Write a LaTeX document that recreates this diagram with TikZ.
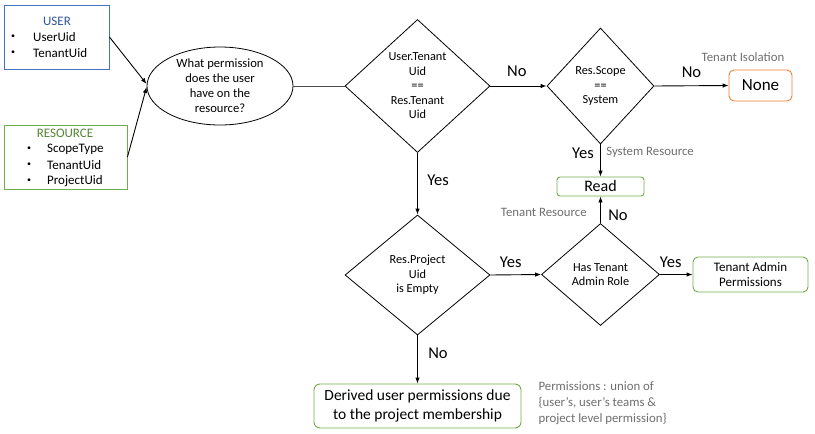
\documentclass[tikz,border=0pt]{standalone}
\usepackage{fontspec}
\setmainfont{Carlito}
\usetikzlibrary{shapes.geometric,arrows.meta,positioning}
\definecolor{userblue}{HTML}{4472C4}
\definecolor{usertext}{HTML}{2F5597}
\definecolor{resgreen}{HTML}{70AD47}
\definecolor{restext}{HTML}{548235}
\definecolor{noneorange}{HTML}{ED7D31}
\definecolor{notegray}{HTML}{6E6E6E}
\begin{document}
\begin{tikzpicture}[x=1pt,y=-1pt,
    every node/.style={font=\fontsize{13}{15}\selectfont},
    decision/.style={diamond,draw,line width=0.8pt,inner sep=0pt,align=center,font=\fontsize{12.3}{14.5}\selectfont},
    outbox/.style={draw=#1,rounded corners=5pt,line width=0.9pt,align=center},
    inbox/.style={draw=#1,line width=0.9pt},
    item/.style={anchor=west,inner sep=0pt},
    dot/.style={font=\fontsize{8}{10}\selectfont},
    flow/.style={line width=0.9pt,-{Latex[length=6pt,width=4.5pt]}},
    lbl/.style={font=\fontsize{16.5}{18}\selectfont},
    note/.style={text=notegray,align=left,font=\fontsize{12.8}{16}\selectfont}]
    \useasboundingbox (0,0) rectangle (815,434);
    \node[inbox=userblue,minimum width=105pt,minimum height=64pt] (user) at (56.5,37) {};
    \node[text=usertext] (usertitle) at (57,21) {USER};
    \foreach \t [count=\i] in {UserUid,TenantUid}{
        \node[dot] (ubul\i) at (13,21+16*\i) {\textbullet};
        \node[item] (uitem\i) at (33,21+16*\i) {\t};
    }
    \node[inbox=resgreen,minimum width=123pt,minimum height=64pt] (res) at (65.5,157) {};
    \node[text=restext] (restitle) at (65,133) {RESOURCE};
    \foreach \t [count=\i] in {ScopeType,TenantUid,ProjectUid}{
        \node[dot] (rbul\i) at (29,133+16*\i) {\textbullet};
        \node[item] (ritem\i) at (47,133+16*\i) {\t};
    }
    \node[ellipse,draw,line width=0.8pt,minimum width=146pt,minimum height=78pt] (q) at (220,86) {};
    \node[align=center,font=\fontsize{12.6}{15}\selectfont] (qtext) at (q) {What permission\\does the user\\have on the\\resource?};
    \node[decision,minimum width=145pt,minimum height=133pt] (d1) at (417.5,86) {User.Tenant\\Uid\\==\\Res.Tenant\\Uid};
    \node[decision,minimum width=107pt,minimum height=116pt] (d2) at (600.5,86) {Res.Scope\\==\\System};
    \node[outbox=noneorange,minimum width=63pt,minimum height=31pt,font=\fontsize{17}{19}\selectfont] (none) at (760.5,85.5) {None};
    \node[outbox=resgreen,rounded corners=3pt,minimum width=87pt,minimum height=19pt,font=\fontsize{16}{18}\selectfont] (read) at (600.5,186.5) {Read};
    \node[decision,minimum width=145pt,minimum height=120pt] (d3) at (417.5,275) {Res.Project\\Uid\\is Empty};
    \node[decision,minimum width=118pt,minimum height=102pt] (d4) at (600.5,274.5) {Has Tenant\\Admin Role};
    \node[outbox=resgreen,minimum width=115pt,minimum height=35pt] (admin) at (750.5,274.5) {Tenant Admin\\Permissions};
    \node[outbox=resgreen,rounded corners=6pt,minimum width=207pt,minimum height=44pt,font=\fontsize{15.5}{19}\selectfont] (derived) at (417.5,406) {Derived user permissions due\\to the project membership};
    \node[note] (isolation) at (743,57) {Tenant Isolation};
    \node[note,anchor=west] (union) at (535,403) {Permissions : union of\\\{user’s, user’s teams \&\\project level permission\}};
    \draw[flow] (user.east) -- ([yshift=2pt]q.west);
    \draw[flow] (res.east) -- ([yshift=-1pt]q.west);
    \draw[line width=0.6pt,black!70] (q.east) -- (d1.west);
    \draw[flow] (d1.east) -- node[lbl,above=6pt,pos=0.47] (no1) {No} (d2.west);
    \draw[flow] (d2.east) -- node[lbl,above=4pt] (no2) {No} (none.west);
    \draw[flow] (d2.south) -- node[lbl,left=3pt,pos=0.27] (yes1) {Yes}
        node[note,right=2pt,pos=0.25] (sysres) {System Resource} (read.north);
    \draw[flow] (d1.south) -- node[lbl,right=6pt,pos=0.45] (yes2) {Yes} (d3.north);
    \draw[flow] (d3.east) -- node[lbl,above=3pt,pos=0.4] (yes3) {Yes} (d4.west);
    \draw[flow] (d4.north) -- node[lbl,right=4pt,pos=0.3] (no3) {No}
        node[note,left=10pt,pos=0.4] (tenres) {Tenant Resource} (read.south);
    \draw[flow] (d4.east) -- node[lbl,above=3pt,pos=0.33] (yes4) {Yes} (admin.west);
    \draw[flow] (d3.south) -- node[lbl,right=7pt,pos=0.37] (no4) {No} (derived.north);
\end{tikzpicture}
\end{document}
